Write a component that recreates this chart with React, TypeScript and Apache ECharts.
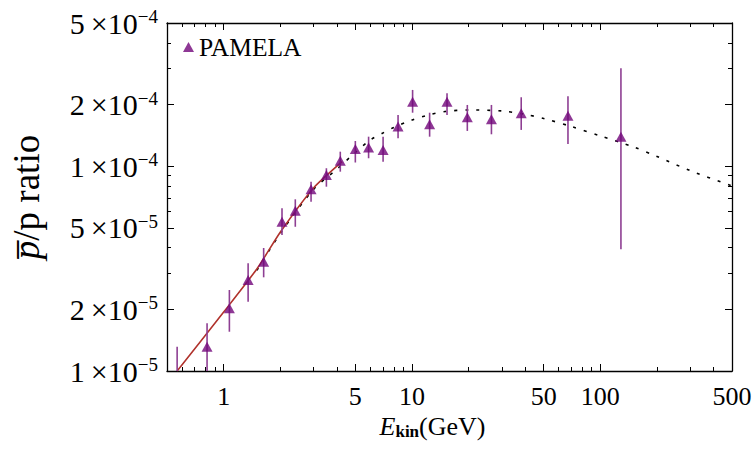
import React, { useEffect, useRef } from "react";
import * as echarts from "echarts";

// ---------- data ----------
const energies = [0.566, 0.816, 1.072, 1.348, 1.63, 2.04, 2.4, 2.91, 3.51, 4.16, 5.0, 5.88, 7.02, 8.43, 10.07, 12.4, 15.34, 19.66, 26.4, 38.0, 67.3, 128.6];
const ratios = [9.5e-6, 1.314e-5, 2.024e-5, 2.78e-5, 3.417e-5, 5.36e-5, 6.06e-5, 7.71e-5, 9.06e-5, 1.064e-4, 1.213e-4, 1.234e-4, 1.2e-4, 1.56e-4, 2.065e-4, 1.602e-4, 2.065e-4, 1.733e-4, 1.694e-4, 1.813e-4, 1.764e-4, 1.393e-4];
const errLow = [9.0e-6, 9.9e-6, 1.555e-5, 2.18e-5, 2.867e-5, 4.61e-5, 5.06e-5, 6.71e-5, 7.94e-5, 9.4e-5, 1.042e-4, 1.093e-4, 1.052e-4, 1.368e-4, 1.824e-4, 1.393e-4, 1.778e-4, 1.486e-4, 1.431e-4, 1.503e-4, 1.283e-4, 3.93e-5];
const errHigh = [1.314e-5, 1.71e-5, 2.486e-5, 3.356e-5, 3.987e-5, 6.23e-5, 6.89e-5, 8.4e-5, 9.77e-5, 1.177e-4, 1.327e-4, 1.393e-4, 1.393e-4, 1.778e-4, 2.356e-4, 1.824e-4, 2.27e-4, 1.99e-4, 1.99e-4, 2.17e-4, 2.192e-4, 3.006e-4];

const redE = [0.566, 1, 1.5, 2, 3, 4.25];
const redR = [1.0e-5, 1.941e-5, 3.148e-5, 4.77e-5, 7.83e-5, 1.052e-4];

const dotE = [1.5, 2, 3, 4, 5, 6, 7, 8, 10, 12, 15, 20, 30, 40, 50, 70, 100, 150, 200, 300, 500];
const dotR = [3.1e-5, 4.7e-5, 7.7e-5, 9.69e-5, 1.166e-4, 1.342e-4, 1.452e-4, 1.545e-4, 1.681e-4, 1.769e-4, 1.849e-4, 1.881e-4, 1.86e-4, 1.788e-4, 1.71e-4, 1.562e-4, 1.404e-4, 1.241e-4, 1.115e-4, 9.51e-5, 8.0e-5];

const xMajorTicks = [1, 5, 10, 50, 100, 500];
const xMajorLabels = ["1", "5", "10", "50", "100", "500"];
const xMinorTicks = [0.6, 0.7, 0.8, 0.9, 2, 3, 4, 6, 7, 8, 9, 20, 30, 40, 60, 70, 80, 90, 200, 300, 400];

const yMajorTicks = [1e-5, 2e-5, 5e-5, 1e-4, 2e-4, 5e-4];
const yMantissas = ["1", "2", "5", "1", "2", "5"];
const yExponents = ["\u22125", "\u22125", "\u22125", "\u22124", "\u22124", "\u22124"];
const yMinorTicks = [3e-5, 4e-5, 6e-5, 7e-5, 8e-5, 9e-5, 3e-4, 4e-4];

const seriesName = "PAMELA";
const xTitle = ["E", "kin", "(GeV)"];
const yTitle = ["p\u0305", "/p ratio"];

const FONT = '"Liberation Serif", "Times New Roman", serif';

function findIndex(arr: number[], v: number) {
  let best = 0;
  let bd = Infinity;
  arr.forEach((a, i) => {
    const d = Math.abs(Math.log10(a) - Math.log10(v));
    if (d < bd) { bd = d; best = i; }
  });
  return best;
}

export default function App() {
  const ref = useRef<HTMLDivElement>(null);
  useEffect(() => {
    document.body.style.margin = "0";
    if (!ref.current) return;
    const chart = echarts.init(ref.current, null, { renderer: "svg" });

    const xBase = { type: "log", logBase: 10, min: 0.5, max: 500, gridIndex: 0, splitLine: { show: false } };
    const yBase = { type: "log", logBase: 10, min: 1e-5, max: 5e-4, gridIndex: 0, splitLine: { show: false } };
    const line = { show: true, lineStyle: { color: "#000", width: 1.3 } };
    const noLine = { show: false };

    const option: any = {
      animation: false,
      backgroundColor: "#fff",
      grid: { left: 167, right: 24, top: 23, bottom: 83, containLabel: false, outerBoundsMode: "none" },
      legend: {
        data: [{ name: seriesName, icon: "triangle" }],
        left: 178,
        top: 29,
        itemWidth: 11,
        itemHeight: 10,
        textStyle: { fontSize: 25.5, fontFamily: FONT, color: "#000" },
      },
      xAxis: [
        {
          ...xBase, position: "bottom", axisLine: line,
          axisTick: { show: true, inside: true, length: 7, customValues: xMajorTicks, lineStyle: { color: "#000" } },
          axisLabel: {
            show: true, customValues: xMajorTicks, margin: 12, fontSize: 26, fontFamily: FONT, color: "#000",
            formatter: (v: number) => xMajorLabels[findIndex(xMajorTicks, v)],
          },
          name: `{e|${xTitle[0]}}{k|${xTitle[1]}}{g|${xTitle[2]}}`,
          nameLocation: "middle",
          nameGap: 29,
          nameTextStyle: {
            padding: [0, 34, 0, 0],
            rich: {
              e: { fontSize: 26, fontStyle: "italic", fontFamily: FONT, color: "#000", verticalAlign: "bottom" },
              k: { fontSize: 17, fontWeight: "bold", fontFamily: FONT, color: "#000", verticalAlign: "bottom" },
              g: { fontSize: 26, fontFamily: FONT, color: "#000", verticalAlign: "bottom" },
            },
          },
        },
        {
          ...xBase, position: "bottom", axisLine: noLine,
          axisTick: { show: true, inside: true, length: 4, customValues: xMinorTicks, lineStyle: { color: "#000" } },
          axisLabel: { show: false },
        },
        {
          ...xBase, position: "top", axisLine: line,
          axisTick: { show: true, inside: true, length: 7, customValues: xMajorTicks, lineStyle: { color: "#000" } },
          axisLabel: { show: false },
        },
        {
          ...xBase, position: "top", axisLine: noLine,
          axisTick: { show: true, inside: true, length: 4, customValues: xMinorTicks, lineStyle: { color: "#000" } },
          axisLabel: { show: false },
        },
      ],
      yAxis: [
        {
          ...yBase, position: "left", axisLine: line,
          axisTick: { show: true, inside: true, length: 7, customValues: yMajorTicks, lineStyle: { color: "#000" } },
          axisLabel: {
            show: true, customValues: yMajorTicks, margin: 9,
            formatter: (v: number) => {
              const i = findIndex(yMajorTicks, v);
              return `{m|${yMantissas[i]}\u2009\u00d710}{e|${yExponents[i]}}`;
            },
            rich: {
              m: { fontSize: 30, fontFamily: FONT, color: "#000", lineHeight: 32 },
              e: { fontSize: 19, fontFamily: FONT, color: "#000", verticalAlign: "top", lineHeight: 20 },
            },
          },
          name: `{p|${yTitle[0]}}{r|${yTitle[1]}}`,
          nameLocation: "middle",
          nameGap: 122,
          nameTextStyle: {
            rich: {
              p: { fontSize: 37, fontStyle: "italic", fontFamily: FONT, color: "#000" },
              r: { fontSize: 37, fontFamily: FONT, color: "#000" },
            },
          },
        },
        {
          ...yBase, position: "left", axisLine: noLine,
          axisTick: { show: true, inside: true, length: 4, customValues: yMinorTicks, lineStyle: { color: "#000" } },
          axisLabel: { show: false },
        },
        {
          ...yBase, position: "right", axisLine: line,
          axisTick: { show: true, inside: true, length: 7, customValues: yMajorTicks, lineStyle: { color: "#000" } },
          axisLabel: { show: false },
        },
        {
          ...yBase, position: "right", axisLine: noLine,
          axisTick: { show: true, inside: true, length: 4, customValues: yMinorTicks, lineStyle: { color: "#000" } },
          axisLabel: { show: false },
        },
      ],
      series: [
        {
          type: "line", name: "model", xAxisIndex: 0, yAxisIndex: 0, showSymbol: false, smooth: 0.3, z: 2,
          data: dotE.map((e, i) => [e, dotR[i]]),
          lineStyle: { color: "#000", width: 1.6, type: [3, 8] },
        },
        {
          type: "line", name: "fit", xAxisIndex: 0, yAxisIndex: 0, showSymbol: false, smooth: 0.2, z: 3,
          data: redE.map((e, i) => [e, redR[i]]),
          lineStyle: { color: "#b0322c", width: 1.6 },
        },
        {
          type: "custom", name: "errors", xAxisIndex: 0, yAxisIndex: 0, z: 4, clip: true,
          data: energies.map((e, i) => [e, errLow[i], errHigh[i]]),
          encode: { x: 0, y: [1, 2] },
          renderItem: (params: any, api: any) => {
            const x = api.value(0);
            const a = api.coord([x, api.value(1)]);
            const b = api.coord([x, api.value(2)]);
            return {
              type: "line",
              shape: { x1: a[0], y1: a[1], x2: b[0], y2: b[1] },
              style: { stroke: "#8e3f93", lineWidth: 1.6 },
            };
          },
        },
        {
          type: "scatter", name: seriesName, xAxisIndex: 0, yAxisIndex: 0, z: 5,
          symbol: "triangle", symbolSize: [11, 10],
          itemStyle: { color: "#72067a" },
          data: energies.map((e, i) => [e, ratios[i]]),
        },
      ],
    };
    chart.setOption(option);
    return () => chart.dispose();
  }, []);
  return <div ref={ref} style={{ width: 756, height: 454 }} />;
}
